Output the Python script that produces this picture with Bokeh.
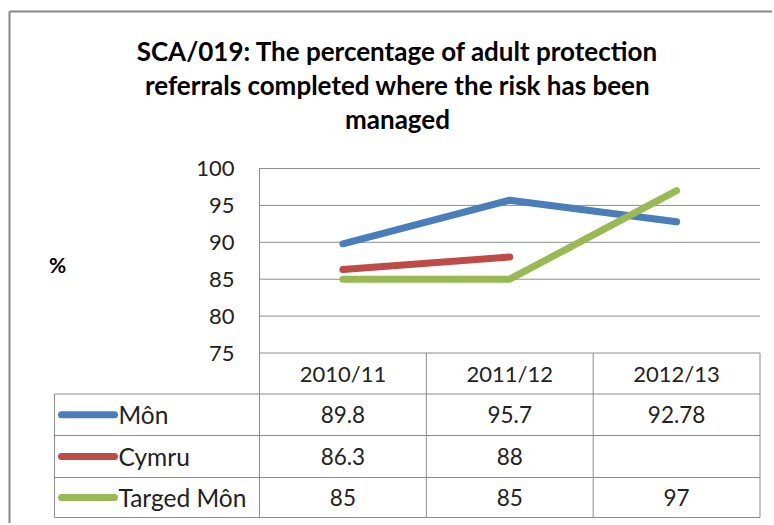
from bokeh.plotting import figure
from bokeh.models import Range1d
from bokeh.core.properties import value
from bokeh.embed import file_html
from bokeh.resources import INLINE

# ---------------- data ----------------
title_lines = ["SCA/019: The percentage of adult protection",
               "referrals completed where the risk has been",
               "managed"]
categories = ["2010/11", "2011/12", "2012/13"]
series_names = ["Môn", "Cymru", "Targed Môn"]
mon = [89.8, 95.7, 92.78]
cymru = [86.3, 88.0, float("nan")]
targed = [85, 85, 97]
y_ticks = [75, 80, 85, 90, 95, 100]
y_label = "%"
colors = ["#4A7EBB", "#BE4B48", "#98B954"]
series = [mon, cymru, targed]

# ---------------- layout (canvas px, y down) ----------------
W, H = 772, 523
PL, PR, PT, PB = 259.0, 759.5, 168.0, 352.5
TBL_L = 54
ROWS = [352.5, 393.5, 435.0, 477.0, 517.0]
FONT = "Lato"
GRID = "#8c8c8c"

ncat = len(categories)
colw = (PR - PL) / ncat
x_start = -0.5 - PL / colw
x_end = ncat - 0.5 + (W - PR) / colw
ymin, ymax = min(y_ticks), max(y_ticks)
ppu = (PB - PT) / (ymax - ymin)
y_end = ymax + PT / ppu
y_start = ymin - (H - PB) / ppu

p = figure(width=W, height=H, x_range=Range1d(x_start, x_end),
           y_range=Range1d(y_start, y_end), output_backend="svg",
           toolbar_location=None, x_axis_location=None, y_axis_location=None,
           min_border=0, min_border_left=0, min_border_right=0,
           min_border_top=0, min_border_bottom=0)
p.extra_x_ranges = {"px": Range1d(0, W)}
p.extra_y_ranges = {"px": Range1d(H, 0)}
p.grid.visible = False
p.outline_line_color = None
p.background_fill_color = "white"
p.border_fill_color = "white"

# outer chart border
p.segment(x0=[9, 9], y0=[11, 11], x1=[9, W], y1=[H, 11], line_color="#878787",
          line_width=2, x_range_name="px", y_range_name="px")

# gridlines (data space)
xs_idx = list(range(ncat))
p.segment(x0=[-0.5] * len(y_ticks), x1=[ncat - 0.5] * len(y_ticks),
          y0=y_ticks, y1=y_ticks, line_color=GRID, line_width=1)

# table lines
vx = [PL] + [PL + colw * (k + 1) for k in range(ncat)] + [TBL_L]
vy0 = [PT] + [PB] * ncat + [ROWS[1]]
vy1 = [ROWS[-1]] * (ncat + 2)
p.segment(x0=vx, x1=vx, y0=vy0, y1=vy1, line_color=GRID, line_width=1,
          x_range_name="px", y_range_name="px")
hy = ROWS[1:]
p.segment(x0=[TBL_L] * len(hy), x1=[PR] * len(hy), y0=hy, y1=hy,
          line_color=GRID, line_width=1, x_range_name="px", y_range_name="px")

# data lines
for vals, c in zip(series, colors):
    p.line(x=xs_idx, y=vals, line_color=c, line_width=7,
           line_cap="round", line_join="round")

# title
p.text(x=[397] * 3, y=[50, 84, 118], text=title_lines, text_font=value(FONT),
       text_font_style="bold", text_font_size="26px", text_align="center",
       text_baseline="middle", text_color="#000000",
       x_range_name="px", y_range_name="px")

# y tick labels
p.text(x=[234] * len(y_ticks), y=y_ticks, text=[str(t) for t in y_ticks],
       text_font=value(FONT), text_font_size="22px", text_align="right",
       text_baseline="middle", text_color="#222222", x_range_name="px")

# y label
p.text(x=[57], y=[264], text=[y_label], text_font=value(FONT),
       text_font_style="bold", text_font_size="21px", text_align="center",
       text_baseline="middle", text_color="#000000",
       x_range_name="px", y_range_name="px")

# header row
hc = (ROWS[0] + ROWS[1]) / 2
p.text(x=xs_idx, y=[hc] * ncat, text=categories, text_font=value(FONT),
       text_font_size="22px", text_align="center", text_baseline="middle",
       text_color="#222222", y_range_name="px")

def fmt(v):
    return "" if v != v else f"{v:g}"

for r, (name, vals, c) in enumerate(zip(series_names, series, colors)):
    yc = (ROWS[r + 1] + ROWS[r + 2]) / 2
    p.text(x=xs_idx, y=[yc] * ncat, text=[fmt(v) for v in vals],
           text_font=value(FONT), text_font_size="22.5px", text_align="center",
           text_baseline="middle", text_color="#222222", y_range_name="px")
    p.segment(x0=[61], x1=[114], y0=[yc], y1=[yc], line_color=c, line_width=7,
              line_cap="round", x_range_name="px", y_range_name="px")
    p.text(x=[118], y=[yc], text=[name], text_font=value(FONT),
           text_font_size="24.5px", text_align="left", text_baseline="middle",
           text_color="#222222", x_range_name="px", y_range_name="px")

open("out.html", "w").write(file_html(p, INLINE))
